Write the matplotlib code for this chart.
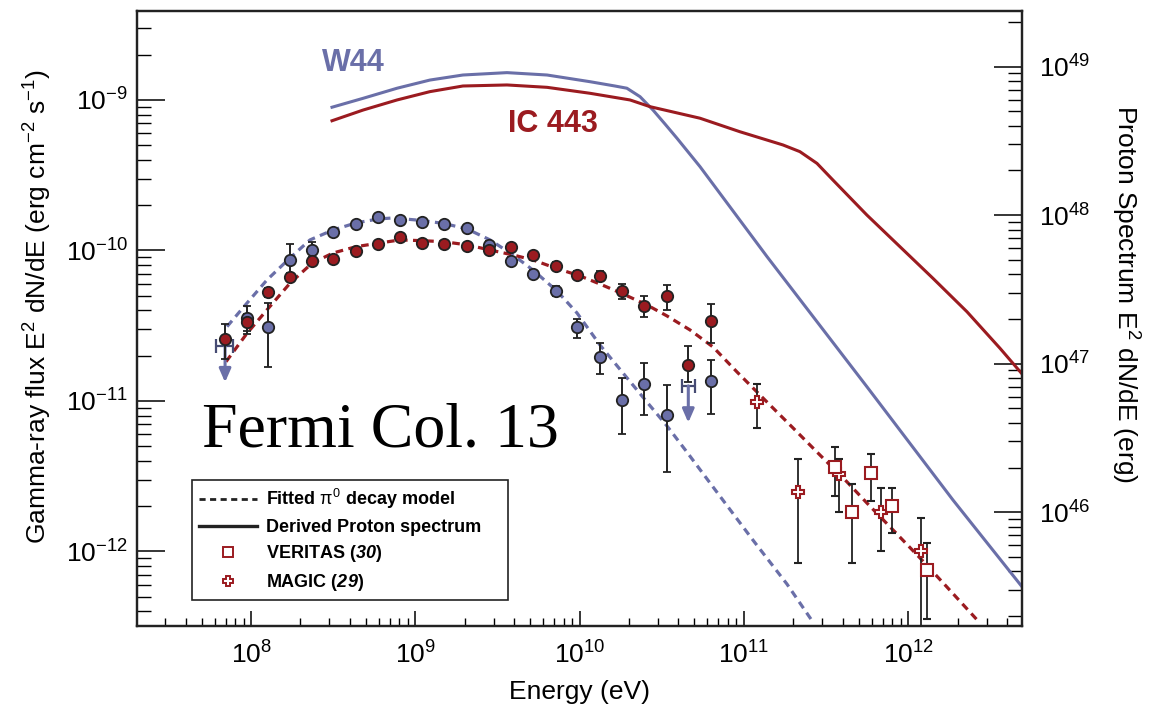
import numpy as np
import matplotlib
matplotlib.use("Agg")
import matplotlib.pyplot as plt
from matplotlib.lines import Line2D

plt.rcParams["font.family"] = "Liberation Sans"
plt.rcParams["mathtext.fontset"] = "custom"
plt.rcParams["mathtext.rm"] = "Liberation Sans"
plt.rcParams["mathtext.it"] = "Liberation Sans:italic"
plt.rcParams["mathtext.bf"] = "Liberation Sans:bold"
# bold italic, used for the reference numbers in the legend
plt.rcParams["mathtext.sf"] = "Liberation Sans:style=italic:weight=bold"

BLUE = "#6a6fa8"
RED = "#9b1b20"
EDGE = "#222222"

# Fermi-LAT spectral points, E in eV, E^2 dN/dE in erg cm^-2 s^-1
w44_energy = [9.42e7, 1.27e8, 1.73e8, 2.34e8, 3.17e8, 4.34e8, 5.96e8, 8.07e8, 1.10e9, 1.50e9, 2.07e9,
              2.81e9, 3.83e9, 5.22e9, 7.16e9, 9.59e9, 1.33e10, 1.82e10, 2.47e10, 3.39e10, 6.28e10]
w44_flux = [3.57e-11, 3.11e-11, 8.67e-11, 1.01e-10, 1.32e-10, 1.50e-10, 1.67e-10, 1.60e-10, 1.55e-10, 1.51e-10, 1.40e-10,
            1.09e-10, 8.57e-11, 7.0e-11, 5.41e-11, 3.11e-11, 1.96e-11, 1.015e-11, 1.30e-11, 8.07e-12, 1.35e-11]
w44_flux_lo = [2.8e-11, 1.69e-11, 6.9e-11, 9.0e-11, 1.26e-10, 1.44e-10, 1.60e-10, 1.53e-10, 1.48e-10, 1.44e-10, 1.33e-10,
               1.03e-10, 8.1e-11, 6.6e-11, 5.0e-11, 2.63e-11, 1.52e-11, 6.05e-12, 8.07e-12, 3.35e-12, 8.23e-12]
w44_flux_hi = [4.3e-11, 4.5e-11, 1.1e-10, 1.13e-10, 1.38e-10, 1.56e-10, 1.74e-10, 1.67e-10, 1.62e-10, 1.58e-10, 1.47e-10,
               1.15e-10, 9.0e-11, 7.4e-11, 5.8e-11, 3.52e-11, 2.41e-11, 1.43e-11, 1.80e-11, 1.27e-11, 1.87e-11]

# W44 upper limits
w44_ul_energy = [6.95e7, 4.59e10]
w44_ul_energy_lo = [6.12e7, 4.22e10]
w44_ul_energy_hi = [7.80e7, 5.04e10]
w44_ul_flux = [2.33e-11, 1.26e-11]
w44_ul_tip = [1.33e-11, 7.18e-12]

ic443_energy = [6.95e7, 9.42e7, 1.27e8, 1.73e8, 2.34e8, 3.17e8, 4.34e8, 5.96e8, 8.07e8, 1.10e9, 1.50e9, 2.07e9,
                2.81e9, 3.83e9, 5.22e9, 7.16e9, 9.59e9, 1.33e10, 1.82e10, 2.47e10, 3.39e10, 4.59e10, 6.28e10]
ic443_flux = [2.60e-11, 3.33e-11, 5.27e-11, 6.71e-11, 8.45e-11, 8.81e-11, 9.9e-11, 1.10e-10, 1.23e-10, 1.12e-10, 1.10e-10, 1.07e-10,
              1.01e-10, 1.06e-10, 9.26e-11, 7.94e-11, 6.89e-11, 6.81e-11, 5.35e-11, 4.26e-11, 4.96e-11, 1.73e-11, 3.38e-11]
ic443_flux_lo = [1.91e-11, 2.9e-11, 4.9e-11, 6.3e-11, 8.0e-11, 8.4e-11, 9.5e-11, 1.05e-10, 1.18e-10, 1.07e-10, 1.05e-10, 1.02e-10,
                 9.6e-11, 1.0e-10, 8.8e-11, 7.5e-11, 6.5e-11, 6.3e-11, 4.79e-11, 3.59e-11, 4.05e-11, 1.34e-11, 2.41e-11]
ic443_flux_hi = [3.25e-11, 3.8e-11, 5.6e-11, 7.1e-11, 8.9e-11, 9.2e-11, 1.03e-10, 1.15e-10, 1.28e-10, 1.17e-10, 1.15e-10, 1.12e-10,
                 1.06e-10, 1.11e-10, 9.7e-11, 8.4e-11, 7.3e-11, 7.3e-11, 6.03e-11, 5.01e-11, 5.85e-11, 2.33e-11, 4.41e-11]

# TeV points for IC 443
magic_energy = [1.20e11, 2.14e11, 3.79e11, 6.81e11, 1.20e12]
magic_flux = [9.8e-12, 2.47e-12, 3.25e-12, 1.82e-12, 1.0e-12]
magic_flux_lo = [6.59e-12, 8.36e-13, 1.82e-12, 1.0e-12, 1e-14]
magic_flux_hi = [1.30e-11, 4.12e-12, 4.12e-12, 2.64e-12, 1.67e-12]

veritas_energy = [3.59e11, 4.53e11, 5.94e11, 7.94e11, 1.31e12]
veritas_flux = [3.63e-12, 1.82e-12, 3.30e-12, 2.0e-12, 7.55e-13]
veritas_flux_lo = [2.33e-12, 8.38e-13, 2.18e-12, 1.32e-12, 3.54e-13]
veritas_flux_hi = [4.96e-12, 2.79e-12, 4.45e-12, 2.64e-12, 1.14e-12]

# pi0 decay fits (log10 E, log10 E^2 dN/dE)
w44_fit_log_e = [7.854, 7.976, 8.097, 8.237, 8.359, 8.499, 8.639, 8.773, 8.864, 9.041, 9.175, 9.315, 9.455,
                 9.595, 9.716, 9.862, 9.984, 10.124, 10.264, 10.410, 10.532, 10.653, 10.812, 11.055, 11.262, 11.420]
w44_fit_log_f = [-10.506, -10.349, -10.196, -10.050, -9.930, -9.864, -9.817, -9.791, -9.784, -9.801, -9.821, -9.857, -9.930,
                 -10.030, -10.130, -10.269, -10.415, -10.628, -10.814, -11.007, -11.166, -11.339, -11.571, -11.924, -12.216, -12.468]

ic443_fit_log_e = [7.848, 7.976, 8.097, 8.237, 8.371, 8.499, 8.639, 8.773, 8.907, 9.041, 9.175, 9.315, 9.455, 9.595, 9.716,
                   9.856, 10.002, 10.124, 10.264, 10.410, 10.532, 10.672, 10.812, 10.958, 11.159, 11.299, 11.463, 11.628,
                   11.749, 11.908, 12.072, 12.236, 12.437]
ic443_fit_log_f = [-10.739, -10.550, -10.395, -10.218, -10.085, -10.017, -9.975, -9.952, -9.930, -9.935, -9.942, -9.963,
                   -9.997, -10.030, -10.063, -10.118, -10.169, -10.223, -10.289, -10.362, -10.435, -10.528, -10.641, -10.807,
                   -11.027, -11.179, -11.359, -11.538, -11.678, -11.857, -12.043, -12.236, -12.475]

# derived proton spectra, right axis (log10 E, log10 erg)
w44_proton_log_e = [8.493, 8.682, 8.889, 9.089, 9.290, 9.558, 9.802, 10.063, 10.215, 10.288, 10.368, 10.447, 10.520,
                    10.593, 10.733, 11.141, 11.749, 12.273, 12.699]
w44_proton_log_p = [48.727, 48.787, 48.855, 48.910, 48.944, 48.960, 48.944, 48.899, 48.870, 48.855, 48.798, 48.708, 48.614,
                    48.518, 48.327, 47.721, 46.845, 46.082, 45.490]

ic443_proton_log_e = [8.493, 8.682, 8.889, 9.089, 9.290, 9.558, 9.802, 10.063, 10.307, 10.428, 10.733, 10.976, 11.238,
                      11.341, 11.445, 11.542, 11.749, 11.950, 12.151, 12.358, 12.559, 12.699]
ic443_proton_log_p = [48.636, 48.708, 48.776, 48.832, 48.870, 48.877, 48.861, 48.821, 48.776, 48.731, 48.653, 48.562, 48.473,
                      48.428, 48.349, 48.237, 48.001, 47.788, 47.575, 47.350, 47.104, 46.924]


def err_pair(val, lo, hi):
    val = np.asarray(val)
    return [val - np.asarray(lo), np.asarray(hi) - val]


fig = plt.figure(figsize=(11.53, 7.05), dpi=100)
ax = fig.add_axes([0.1184, 0.1121, 0.7684, 0.8723])
ax2 = ax.twinx()

ax.set_xscale("log")
ax.set_yscale("log")
ax2.set_yscale("log")
ax.set_xlim(10 ** 7.303, 10 ** 12.696)
ax.set_ylim(10 ** -12.495, 10 ** -8.409)
ax2.set_ylim(10 ** 45.234, 10 ** 49.375)

dash = (0, (2.4, 1.7))
ax.plot(10 ** np.array(w44_fit_log_e), 10 ** np.array(w44_fit_log_f), color=BLUE, lw=2.3, ls=dash, zorder=2)
ax.plot(10 ** np.array(ic443_fit_log_e), 10 ** np.array(ic443_fit_log_f), color=RED, lw=2.3, ls=dash, zorder=2)

ax2.plot(10 ** np.array(w44_proton_log_e), 10 ** np.array(w44_proton_log_p), color=BLUE, lw=2.2)
ax2.plot(10 ** np.array(ic443_proton_log_e), 10 ** np.array(ic443_proton_log_p), color=RED, lw=2.2)

# W44 upper limits: horizontal bin bar plus a downward arrow
ax.errorbar(w44_ul_energy, w44_ul_flux, xerr=err_pair(w44_ul_energy, w44_ul_energy_lo, w44_ul_energy_hi),
            fmt="none", ecolor="#464b73", elinewidth=1.6, capsize=5, capthick=1.6, zorder=3)
for e, f, tip in zip(w44_ul_energy, w44_ul_flux, w44_ul_tip):
    ax.annotate("", xy=(e, tip), xytext=(e, f),
                arrowprops=dict(arrowstyle="-|>,head_width=0.35,head_length=0.8", color=BLUE, lw=2.2,
                                shrinkA=0, shrinkB=0), zorder=3)

pt = dict(fmt="o", ms=8.2, mec=EDGE, mew=1.3, ecolor=EDGE, elinewidth=1.4, capsize=3, capthick=1.4, zorder=4)
ax.errorbar(w44_energy, w44_flux, yerr=err_pair(w44_flux, w44_flux_lo, w44_flux_hi), mfc=BLUE, **pt)
ax.errorbar(ic443_energy, ic443_flux, yerr=err_pair(ic443_flux, ic443_flux_lo, ic443_flux_hi), mfc=RED, **pt)

tev = dict(ecolor=EDGE, elinewidth=1.3, capsize=3, capthick=1.3, mfc="white", mec=RED, mew=1.5, zorder=4)
ax.errorbar(magic_energy, magic_flux, yerr=err_pair(magic_flux, magic_flux_lo, magic_flux_hi), fmt="P", ms=8.5, **tev)
ax.errorbar(veritas_energy, veritas_flux, yerr=err_pair(veritas_flux, veritas_flux_lo, veritas_flux_hi), fmt="s", ms=8, **tev)

ax.text(0.2094, 0.9024, "W44", transform=ax.transAxes, color=BLUE, fontsize=22, fontweight="bold")
ax.text(0.4193, 0.8033, "IC 443", transform=ax.transAxes, color=RED, fontsize=22, fontweight="bold")
ax.text(0.0736, 0.2915, "Fermi Col. 13", transform=ax.transAxes, fontsize=46, family="Liberation Serif")

handles = [
    Line2D([], [], color=EDGE, lw=2.0, ls=(0, (2.2, 1.6))),
    Line2D([], [], color=EDGE, lw=2.4),
    Line2D([], [], ls="none", marker="s", ms=7, mfc="white", mec=RED, mew=1.4),
    Line2D([], [], ls="none", marker="P", ms=7.5, mfc="white", mec=RED, mew=1.4),
]
labels = [r"Fitted $\mathrm{\pi^0}$ decay model", "Derived Proton spectrum    ",
          r"VERITAS ($\mathsf{30}$)", r"MAGIC ($\mathsf{29}$)"]
leg = ax.legend(handles, labels, loc="upper left", bbox_to_anchor=(0.0626, 0.2374), borderaxespad=0,
                prop=dict(size=13, weight="bold"), handlelength=3.2, handletextpad=0.5, labelspacing=0.42,
                borderpad=0.4, fancybox=False, framealpha=1)
leg.get_frame().set_edgecolor(EDGE)
leg.get_frame().set_linewidth(1.2)

ax.set_xlabel("Energy (eV)", fontsize=19, labelpad=8)
ax.set_ylabel(r"Gamma-ray flux E$^2$ dN/dE (erg cm$^{-2}$ s$^{-1}$)", fontsize=19, va="center")
ax.yaxis.set_label_coords(-0.111, 0.52)
ax2.set_ylabel(r"Proton Spectrum E$^2$ dN/dE (erg)", fontsize=19, rotation=270, va="center")
ax2.yaxis.set_label_coords(1.1157, 0.54)

ax.tick_params(axis="x", which="major", direction="in", length=11, width=1.1, labelsize=19, pad=11, top=False)
ax.tick_params(axis="x", which="minor", direction="in", length=5.5, width=1.0, top=False)
ax.tick_params(axis="y", which="major", direction="in", length=20, width=1.1, labelsize=19, pad=6, right=False)
ax.tick_params(axis="y", which="minor", direction="in", length=10, width=1.0, right=False)
ax2.tick_params(axis="y", which="major", direction="in", length=20, width=1.1, labelsize=19, pad=12)
ax2.tick_params(axis="y", which="minor", direction="in", length=10, width=1.0)
for a in (ax, ax2):
    for s in a.spines.values():
        s.set_linewidth(1.6)
        s.set_color(EDGE)

fig.savefig("out.png", dpi=100)
